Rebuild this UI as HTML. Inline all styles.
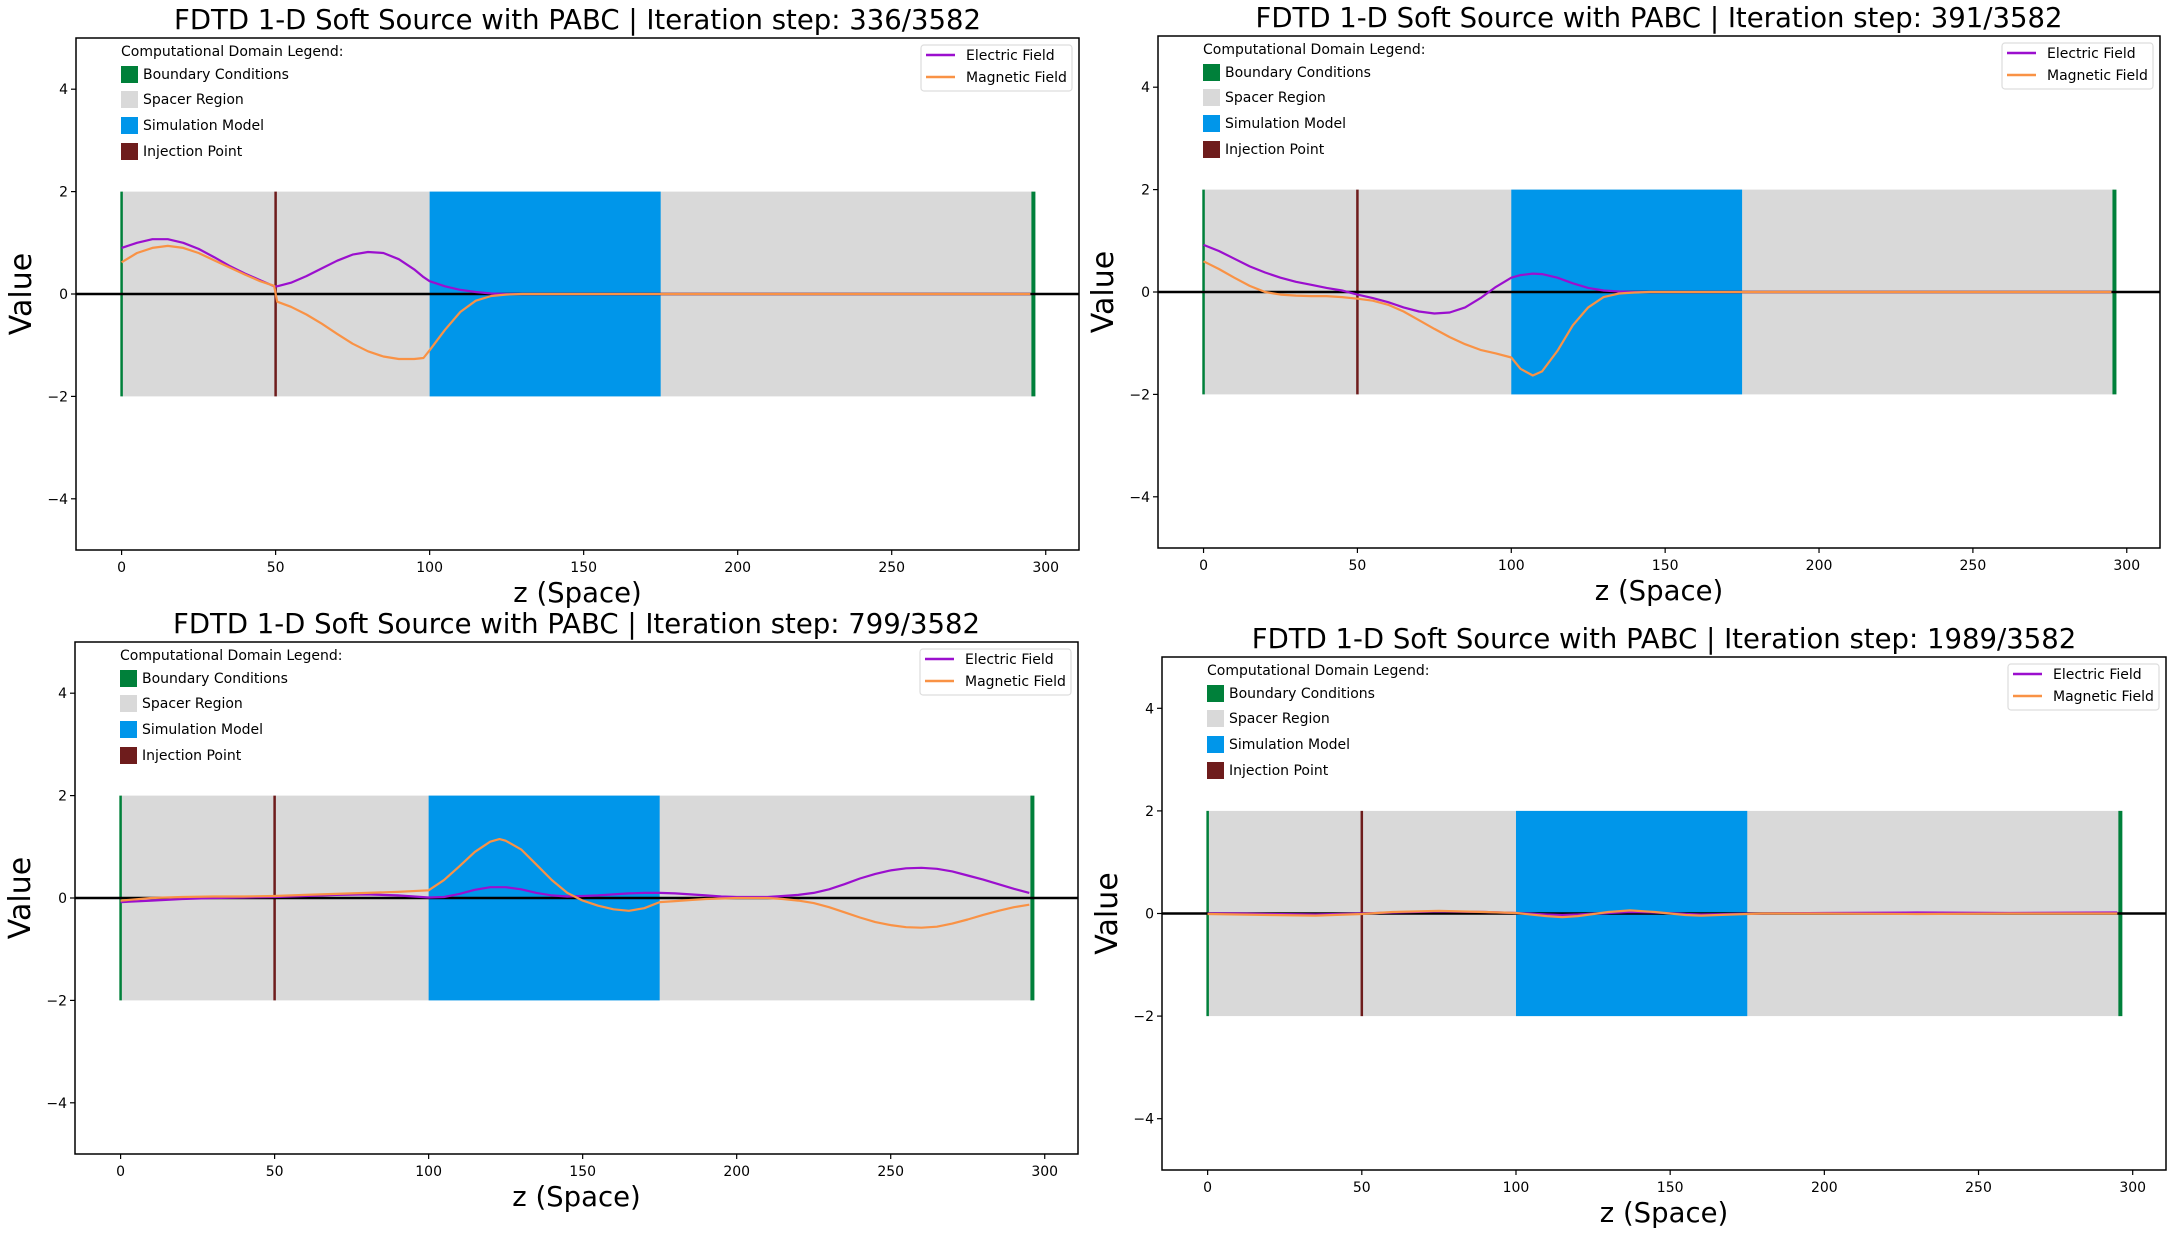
<!DOCTYPE html>
<html><head><meta charset="utf-8"><style>
html,body{margin:0;padding:0;background:#fff;}
svg{display:block;font-family:"DejaVu Sans","Liberation Sans",sans-serif;}
</style></head><body>
<svg id="fig" width="2182" height="1236" viewBox="0 0 2182 1236"></svg>
<script>
// ---------- data ----------
const xTicks = [0,50,100,150,200,250,300];
const yTicks = [-4,-2,0,2,4];
const titles = ["FDTD 1-D Soft Source with PABC | Iteration step: 336/3582","FDTD 1-D Soft Source with PABC | Iteration step: 391/3582","FDTD 1-D Soft Source with PABC | Iteration step: 799/3582","FDTD 1-D Soft Source with PABC | Iteration step: 1989/3582"];
const regionLabels = ["Boundary Conditions","Spacer Region","Simulation Model","Injection Point"];
const seriesLabels = ["Electric Field","Magnetic Field"];

const z1 = [0,5,10,15,20,25,30,35,40,45,49.5,50.5,55,60,65,70,75,80,85,90,95,98,100,105,110,115,120,125,130,175,295];
const e1 = [0.9,1.0,1.07,1.07,1.0,0.88,0.72,0.55,0.4,0.27,0.15,0.15,0.22,0.35,0.5,0.65,0.77,0.82,0.8,0.68,0.48,0.33,0.25,0.15,0.08,0.04,0.01,0,0,0,0];
const h1 = [0.62,0.8,0.9,0.94,0.9,0.8,0.66,0.52,0.38,0.25,0.16,-0.15,-0.25,-0.4,-0.58,-0.78,-0.97,-1.12,-1.22,-1.27,-1.27,-1.25,-1.1,-0.7,-0.35,-0.13,-0.04,-0.01,0,0,0];

const z2 = [0,5,10,15,20,25,30,35,40,45,50,55,60,65,70,75,80,85,90,95,100,103,107,110,115,120,125,130,135,140,145,175,295];
const e2 = [0.92,0.8,0.65,0.5,0.38,0.28,0.2,0.14,0.08,0.03,-0.05,-0.12,-0.2,-0.3,-0.38,-0.42,-0.4,-0.3,-0.12,0.1,0.28,0.33,0.36,0.35,0.28,0.17,0.08,0.03,0.01,0,0,0,0];
const h2 = [0.6,0.45,0.28,0.12,0.0,-0.05,-0.07,-0.08,-0.08,-0.1,-0.13,-0.17,-0.25,-0.38,-0.55,-0.72,-0.88,-1.02,-1.13,-1.2,-1.28,-1.5,-1.63,-1.55,-1.15,-0.65,-0.3,-0.1,-0.03,-0.01,0,0,0];

const z3 = [0,10,20,30,40,50,60,70,80,90,100,105,110,115,120,123,125,130,135,140,145,150,155,160,165,170,175,180,185,190,195,200,205,210,215,220,225,230,235,240,245,250,255,260,265,270,275,280,285,290,295];
const e3 = [-0.08,-0.05,-0.02,0.0,0.01,0.02,0.04,0.06,0.07,0.05,0.01,0.02,0.08,0.16,0.21,0.21,0.21,0.17,0.1,0.05,0.03,0.04,0.05,0.07,0.09,0.1,0.1,0.09,0.07,0.05,0.03,0.02,0.02,0.02,0.04,0.06,0.1,0.17,0.27,0.38,0.47,0.54,0.58,0.59,0.57,0.52,0.44,0.36,0.27,0.18,0.1];
const h3 = [-0.05,0.0,0.02,0.03,0.03,0.04,0.06,0.08,0.1,0.12,0.15,0.35,0.62,0.9,1.1,1.15,1.12,0.95,0.65,0.35,0.1,-0.05,-0.15,-0.22,-0.25,-0.2,-0.08,-0.06,-0.04,-0.02,-0.01,0,0,0,-0.02,-0.05,-0.1,-0.18,-0.28,-0.38,-0.47,-0.53,-0.57,-0.58,-0.56,-0.5,-0.42,-0.33,-0.25,-0.18,-0.13];

const z4 = [0,10,20,35,50,60,75,90,100,110,115,120,130,137,145,155,160,170,180,200,230,260,295];
const e4 = [0,0,-0.01,-0.02,0,0.02,0.04,0.03,0.01,-0.02,-0.03,-0.02,0.01,0.03,0.02,-0.01,-0.02,-0.01,0,0.01,0.02,0.01,0.02];
const h4 = [-0.01,-0.02,-0.03,-0.04,-0.01,0.03,0.05,0.03,0.01,-0.05,-0.07,-0.05,0.03,0.06,0.03,-0.03,-0.04,-0.02,0,0,-0.01,0,0];

const zs = [z1,z2,z3,z4], es=[e1,e2,e3,e4], hs=[h1,h2,h3,h4];
// ---------- layout ----------
const panels = [{l:76,t:38,r:1079,b:550},{l:1158,t:36,r:2160,b:548},{l:75,t:642,r:1078,b:1154},{l:1162,t:657,r:2166,b:1170}];
const NS="http://www.w3.org/2000/svg";
const svg=document.getElementById('fig');
function mk(tag,attrs,parent,text){const e=document.createElementNS(NS,tag);for(const k in attrs)e.setAttribute(k,attrs[k]);if(text!==undefined)e.textContent=text;parent.appendChild(e);return e;}
const XMIN=-14.8,XMAX=310.8,YMIN=-5,YMAX=5;
panels.forEach((p,i)=>{
  const g=mk('g',{},svg);
  
  
  const sx=v=>p.l+(v-XMIN)/(XMAX-XMIN)*(p.r-p.l);
  const sy=v=>p.b-(v-YMIN)/(YMAX-YMIN)*(p.b-p.t);
  let e;
  e=mk('rect',{x:sx(0),y:sy(2),width:sx(296)-sx(0),height:sy(-2)-sy(2),fill:'#d9d9d9'},g);
  
  
  e=mk('rect',{x:sx(100),y:sy(2),width:sx(175)-sx(100),height:sy(-2)-sy(2),fill:'#0096ea'},g);
  
  
  e=mk('line',{x1:sx(0),x2:sx(0),y1:sy(2),y2:sy(-2),stroke:'#00803a','stroke-width':2.5},g);
  
  
  e=mk('line',{x1:sx(296),x2:sx(296),y1:sy(2),y2:sy(-2),stroke:'#00803a','stroke-width':4},g);
  
  
  e=mk('line',{x1:sx(50),x2:sx(50),y1:sy(2),y2:sy(-2),stroke:'#6e1c1c','stroke-width':2.5},g);
  
  
  e=mk('line',{x1:p.l,x2:p.r,y1:sy(0),y2:sy(0),stroke:'#000','stroke-width':2.5},g);
  
  
  const mkLine=(vals,col,name)=>{
    const pts=zs[i].map((z,k)=>sx(z).toFixed(1)+','+sy(vals[k]).toFixed(1)).join(' ');
    const l=mk('polyline',{points:pts,fill:'none',stroke:col,'stroke-width':2.2,'stroke-linejoin':'round'},g);
    
    
  };
  mkLine(es[i],'#9b0fce','electric-field-line');
  mkLine(hs[i],'#f99245','magnetic-field-line');
  e=mk('rect',{x:p.l,y:p.t,width:p.r-p.l,height:p.b-p.t,fill:'none',stroke:'#000','stroke-width':1.5},g);
  
  
  xTicks.forEach(t=>{
    mk('line',{x1:sx(t),x2:sx(t),y1:p.b,y2:p.b+5,stroke:'#000','stroke-width':1.2},g);
    const tx=mk('text',{x:sx(t),y:p.b+22,'font-size':14,'text-anchor':'middle'},g,String(t));
    
    
  });
  yTicks.forEach(t=>{
    mk('line',{x1:p.l-5,x2:p.l,y1:sy(t),y2:sy(t),stroke:'#000','stroke-width':1.2},g);
    const tx=mk('text',{x:p.l-8,y:sy(t)+5,'font-size':14,'text-anchor':'end'},g,(t<0?'\u2212':'')+Math.abs(t));
    
    
  });
  e=mk('text',{x:(p.l+p.r)/2,y:p.t-9,'font-size':27.5,'text-anchor':'middle'},g,titles[i]);
  
  
  e=mk('text',{x:(p.l+p.r)/2,y:p.b+52,'font-size':27.5,'text-anchor':'middle'},g,'z (Space)');
  
  
  const yc=(p.t+p.b)/2;
  e=mk('text',{x:p.l-45,y:yc,'font-size':30,'text-anchor':'middle',transform:'rotate(-90 '+(p.l-45)+' '+yc+')'},g,'Value');
  
  
  const lg=mk('g',{},g);
  
  
  mk('text',{x:p.l+45,y:p.t+18,'font-size':14},lg,'Computational Domain Legend:');
  const cols=['#00803a','#d9d9d9','#0096ea','#6e1c1c'];
  const offs=[36,61,87,113];
  regionLabels.forEach((lab,k)=>{
    mk('rect',{x:p.l+45,y:p.t+offs[k]-8,width:17,height:17,fill:cols[k]},lg);
    const tx=mk('text',{x:p.l+67,y:p.t+offs[k]+5,'font-size':14},lg,lab);
    
    
  });
  const sg=mk('g',{},g);
  
  
  mk('rect',{x:p.r-158,y:p.t+7,width:151,height:46,fill:'#fff',stroke:'#ddd','stroke-width':1.2,rx:3},sg);
  ['#9b0fce','#f99245'].forEach((c,k)=>{
    const yy=p.t+17+k*22;
    mk('line',{x1:p.r-153,x2:p.r-124,y1:yy,y2:yy,stroke:c,'stroke-width':2.5},sg);
    const tx=mk('text',{x:p.r-113,y:yy+5,'font-size':14},sg,seriesLabels[k]);
    
    
  });
});
</script>
</body></html>
